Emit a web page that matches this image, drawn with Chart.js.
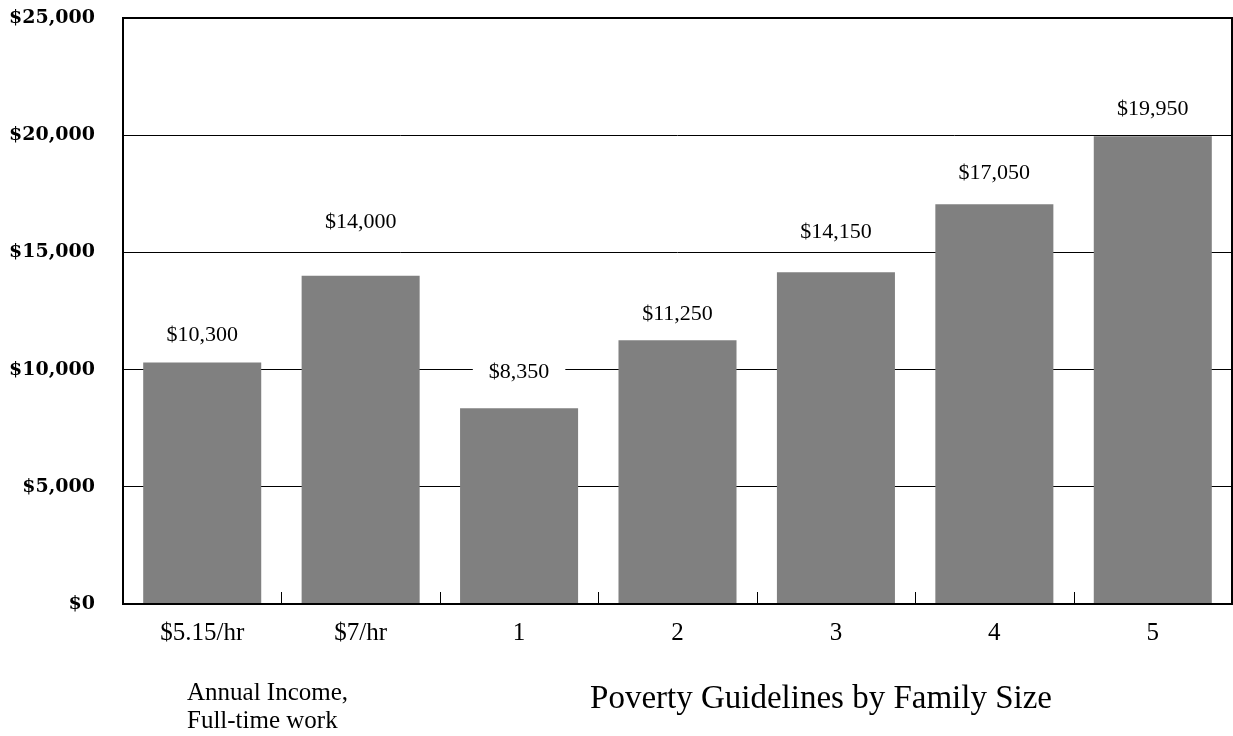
<!DOCTYPE html>
<html>
<head>
<meta charset="utf-8">
<script src="https://cdn.jsdelivr.net/npm/chart.js@4.4.0/dist/chart.umd.min.js"></script>
<style>
  html, body { margin: 0; padding: 0; background: #fff; }
  #wrap { width: 1233px; height: 736px; }
</style>
</head>
<body>
<div id="wrap"><canvas id="plot" width="1233" height="736"></canvas></div>
<script>
  // data
  const categories = ["$5.15/hr", "$7/hr", "1", "2", "3", "4", "5"];
  const amounts = [10300, 14000, 8350, 11250, 14150, 17050, 19950];
  const yTicks = [0, 5000, 10000, 15000, 20000, 25000];
  const leftNote = ["Annual Income,", "Full-time work"];
  const rightNote = "Poverty Guidelines by Family Size";

  // how far each value label sits above its bar (px)
  const labelGap = [27, 54, 36, 26, 40, 31, 27];

  function money(v) {
    return "$" + v.toLocaleString("en-US");
  }

  // frame round the plot + little inward ticks between the bars
  const framePlugin = {
    id: "frame",
    afterDatasetsDraw(chart) {
      const ctx = chart.ctx;
      const a = chart.chartArea;
      const xs = chart.scales.x;
      ctx.save();
      ctx.strokeStyle = "#000";
      ctx.lineWidth = 1;
      for (let i = 1; i < categories.length; i++) {
        let x = Math.round((xs.getPixelForValue(i - 1) + xs.getPixelForValue(i)) / 2) + 0.5;
        ctx.beginPath();
        ctx.moveTo(x, a.bottom - 12);
        ctx.lineTo(x, a.bottom);
        ctx.stroke();
      }
      ctx.lineWidth = 2;
      ctx.strokeRect(a.left, a.top, a.right - a.left, a.bottom - a.top);
      ctx.restore();
    }
  };

  // value labels on a white box, so they hide the grid line behind them
  const valuePlugin = {
    id: "values",
    afterDatasetsDraw(chart) {
      const ctx = chart.ctx;
      const meta = chart.getDatasetMeta(0);
      ctx.save();
      ctx.font = "22px 'Liberation Serif'";
      ctx.textAlign = "center";
      ctx.textBaseline = "middle";
      meta.data.forEach(function (bar, i) {
        let txt = money(amounts[i]);
        let w = ctx.measureText(txt).width;
        let y = bar.y - labelGap[i];
        ctx.fillStyle = "#fff";
        ctx.fillRect(bar.x - w / 2 - 16, y - 12, w + 32, 24);
        ctx.fillStyle = "#000";
        ctx.fillText(txt, bar.x, y);
      });
      ctx.restore();
    }
  };

  // the two notes under the axis
  const notesPlugin = {
    id: "notes",
    afterDraw(chart) {
      const ctx = chart.ctx;
      ctx.save();
      ctx.fillStyle = "#000";
      ctx.textBaseline = "alphabetic";
      ctx.font = "25px 'Liberation Serif'";
      ctx.textAlign = "left";
      ctx.fillText(leftNote[0], 187, 700);
      ctx.fillText(leftNote[1], 187, 728);
      ctx.font = "33px 'Liberation Serif'";
      ctx.textAlign = "center";
      ctx.fillText(rightNote, 821, 708);
      ctx.restore();
    }
  };

  const config = {
    type: "bar",
    data: {
      labels: categories,
      datasets: [{
        data: amounts,
        backgroundColor: "#808080",
        borderWidth: 0,
        categoryPercentage: 1,
        barPercentage: 0.745
      }]
    },
    options: {
      responsive: false,
      animation: false,
      layout: { padding: { top: 18, right: 1, left: 0, bottom: 0 } },
      plugins: {
        legend: { display: false },
        tooltip: { enabled: false }
      },
      scales: {
        x: {
          grid: { display: false, drawTicks: false },
          border: { display: false },
          ticks: {
            color: "#000",
            padding: 14,
            font: { family: "'Liberation Serif'", size: 25 }
          },
          afterFit(scale) {
            scale.height = 132;
            scale.paddingLeft = 0;
            scale.paddingRight = 0;
          }
        },
        y: {
          min: 0,
          max: 25000,
          afterBuildTicks(scale) {
            scale.ticks = yTicks.map(function (v) { return { value: v }; });
          },
          grid: { color: "#000", lineWidth: 1, drawTicks: false },
          border: { display: false },
          ticks: {
            color: "#000",
            padding: 28,
            font: { family: "'DejaVu Serif'", size: 19, weight: "bold" },
            callback: function (v) { return money(v); }
          },
          afterFit(scale) {
            scale.width = 123;
            scale.paddingTop = 0;
            scale.paddingBottom = 0;
          }
        }
      }
    },
    plugins: [framePlugin, valuePlugin, notesPlugin]
  };

  let plotCtx = document.getElementById("plot").getContext("2d");
  let chart = new Chart(plotCtx, config);
</script>
</body>
</html>
